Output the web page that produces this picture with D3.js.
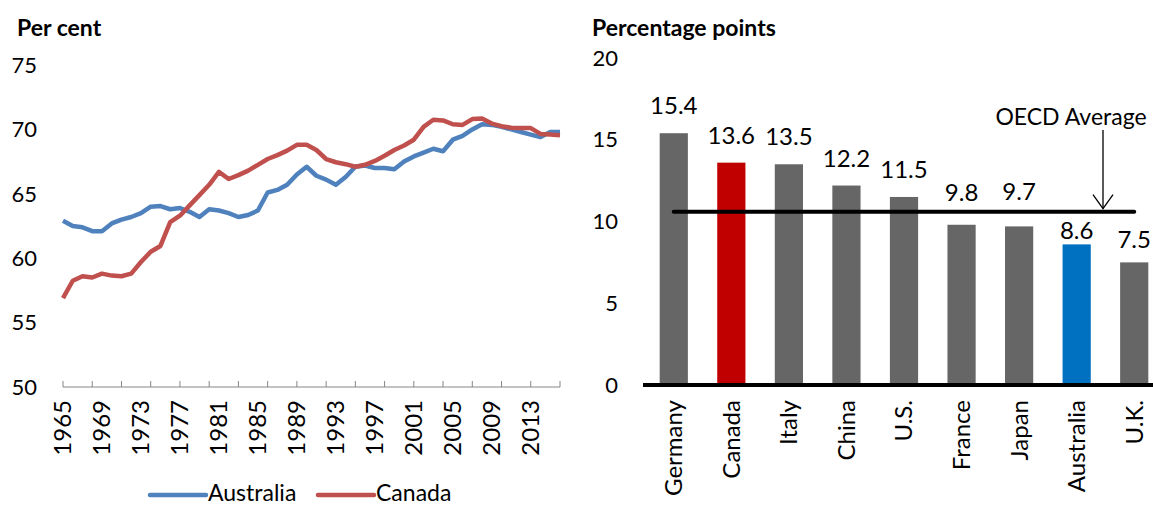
<!DOCTYPE html>
<html>
<head>
<meta charset="utf-8">
<script src="https://cdn.jsdelivr.net/npm/d3@7"></script>
<style>
body { margin:0; background:#fff; }
text { font-family: Lato, "Open Sans", sans-serif; fill:#000; }
</style>
</head>
<body>
<div id="svgContainer"></div>
<script>
// left panel data: share in per cent, 1965-2016
var years = d3.range(1965, 2017);
var australia = [62.9,62.5,62.4,62.1,62.1,62.7,63.0,63.2,63.5,64.0,64.05,63.8,63.9,63.6,63.2,63.8,63.7,63.5,63.2,63.35,
	63.7,65.1,65.3,65.7,66.5,67.1,66.4,66.1,65.7,66.3,67.1,67.2,67.0,67.0,66.9,67.5,67.9,68.2,68.5,68.3,
	69.2,69.5,70.0,70.4,70.35,70.2,70.0,69.8,69.6,69.4,69.8,69.8];
var canada = [56.9,58.25,58.6,58.5,58.8,58.65,58.6,58.8,59.7,60.5,60.95,62.8,63.3,64.1,64.9,65.7,66.7,66.15,66.45,66.8,
	67.25,67.7,68.0,68.35,68.8,68.8,68.4,67.7,67.45,67.3,67.1,67.25,67.55,67.95,68.4,68.75,69.2,70.2,70.75,70.7,
	70.4,70.35,70.8,70.85,70.45,70.25,70.13,70.1,70.1,69.65,69.6,69.55];
var leftTicks = [50,55,60,65,70,75];
var yearLabels = d3.range(1965, 2017, 4);
var yearTicks = d3.range(1965, 2017, 3);

// right panel data: percentage points
var countries = ["Germany","Canada","Italy","China","U.S.","France","Japan","Australia","U.K."];
var points = [15.4,13.6,13.5,12.2,11.5,9.8,9.7,8.6,7.5];
var oecdAvg = 10.6;
var rightTicks = [0,5,10,15,20];

var svgWidth = 1153, svgHeight = 507;
var svg = d3.select("#svgContainer").append("svg")
	.attr("width", svgWidth)
	.attr("height", svgHeight)
	.style("background-color", "#fff");

/* ---------- left: line chart ---------- */
var x1 = d3.scalePoint().domain(years).range([63, 560]);
var y1 = d3.scaleLinear().domain([50, 75]).range([387, 65]);

svg.append("text")
	.attr("x", 17).attr("y", 36)
	.attr("font-size", 23).attr("font-weight", "bold")
	.text("Per cent");

svg.append("g").selectAll("text")
	.data(leftTicks).enter().append("text")
	.attr("x", 37)
	.attr("y", function(d){ return y1(d); })
	.attr("dy", "0.35em")
	.attr("text-anchor", "end")
	.attr("font-size", 22)
	.text(function(d){ return d; });

// category axis, ticks pointing up
var xAxis = svg.append("g").attr("id", "xaxis");
xAxis.append("line")
	.attr("x1", x1(1965)).attr("x2", x1(2016))
	.attr("y1", y1(50)).attr("y2", y1(50))
	.attr("stroke", "#868686").attr("stroke-width", 1);
xAxis.selectAll(".tk")
	.data(yearTicks).enter().append("line")
	.attr("class", "tk")
	.attr("x1", function(d){ return x1(d); })
	.attr("x2", function(d){ return x1(d); })
	.attr("y1", y1(50)).attr("y2", y1(50) - 6)
	.attr("stroke", "#868686");
xAxis.selectAll("text")
	.data(yearLabels).enter().append("text")
	.attr("transform", function(d){
		return "translate(" + [x1(d), 400] + ") rotate(-90)";
	})
	.attr("dy", "0.35em")
	.attr("text-anchor", "end")
	.attr("font-size", 24)
	.text(function(d){ return d; });

var line = d3.line()
	.x(function(d, i){ return x1(years[i]); })
	.y(function(d){ return y1(d); });

var series = [
	{name: "Australia", values: australia, color: "#4F81BD"},
	{name: "Canada", values: canada, color: "#C0504D"}
];

svg.selectAll(".series")
	.data(series).enter().append("path")
	.attr("class", "series")
	.attr("d", function(d){ return line(d.values); })
	.attr("fill", "none")
	.attr("stroke", function(d){ return d.color; })
	.attr("stroke-width", 4.5)
	.attr("stroke-linejoin", "round");

// legend
var legX = [150, 318];
var legend = svg.selectAll(".legend")
	.data(series).enter().append("g")
	.attr("class", "legend")
	.attr("transform", function(d, i){ return "translate(" + legX[i] + ",493)"; });
legend.append("line")
	.attr("x1", 0).attr("x2", 56)
	.attr("y1", 2).attr("y2", 2)
	.attr("stroke", function(d){ return d.color; })
	.attr("stroke-width", 4.5)
	.attr("stroke-linecap", "round");
legend.append("text")
	.attr("x", 58).attr("y", 0)
	.attr("dy", "0.35em")
	.attr("font-size", 23)
	.text(function(d){ return d.name; });

/* ---------- right: bar chart ---------- */
var x2 = d3.scaleBand().domain(countries).range([645, 1163]);
var y2 = d3.scaleLinear().domain([0, 20]).range([385, 58]);
var barW = x2.bandwidth() * 0.49;
var barColor = {"Canada": "#C00000", "Australia": "#0070C0"};
// labels nudged by hand in the original so they clear the average line
var labelGap = {"France": 24, "Japan": 26, "Australia": 5, "U.K.": 14};

svg.append("text")
	.attr("x", 592).attr("y", 36)
	.attr("font-size", 23).attr("font-weight", "bold")
	.text("Percentage points");

svg.append("g").selectAll("text")
	.data(rightTicks).enter().append("text")
	.attr("x", 618)
	.attr("y", function(d){ return y2(d); })
	.attr("dy", "0.35em")
	.attr("text-anchor", "end")
	.attr("font-size", 22)
	.text(function(d){ return d; });

svg.selectAll(".bar")
	.data(points).enter().append("rect")
	.attr("class", "bar")
	.attr("x", function(d, i){ return x2(countries[i]) + (x2.bandwidth() - barW) / 2; })
	.attr("y", function(d){ return y2(d); })
	.attr("width", barW)
	.attr("height", function(d){ return y2(0) - y2(d); })
	.attr("fill", function(d, i){ return barColor[countries[i]] || "#666666"; });

// zero line
svg.append("line")
	.attr("x1", 643).attr("x2", svgWidth)
	.attr("y1", y2(0)).attr("y2", y2(0))
	.attr("stroke", "#000").attr("stroke-width", 4);

// OECD average line
svg.append("line")
	.attr("x1", x2(countries[0]) + x2.bandwidth() / 2)
	.attr("x2", x2(countries[countries.length - 1]) + x2.bandwidth() / 2)
	.attr("y1", y2(oecdAvg)).attr("y2", y2(oecdAvg))
	.attr("stroke", "#000").attr("stroke-width", 4)
	.attr("stroke-linecap", "round");

svg.selectAll(".val")
	.data(points).enter().append("text")
	.attr("class", "val")
	.attr("x", function(d, i){ return x2(countries[i]) + x2.bandwidth() / 2; })
	.attr("y", function(d, i){
		var gap = labelGap[countries[i]];
		return y2(d) - (gap === undefined ? 19 : gap);
	})
	.attr("text-anchor", "middle")
	.attr("font-size", 24)
	.text(function(d){ return d.toFixed(1); });

svg.append("text")
	.attr("x", 1071).attr("y", 125)
	.attr("text-anchor", "middle")
	.attr("font-size", 23)
	.text("OECD Average");

var ax = 1103, ay = y2(oecdAvg) - 3;
svg.append("line")
	.attr("x1", ax).attr("x2", ax)
	.attr("y1", 130).attr("y2", ay)
	.attr("stroke", "#000").attr("stroke-width", 1.3);
svg.append("path")
	.attr("d", "M" + (ax - 10) + "," + (ay - 14) + "L" + ax + "," + ay + "L" + (ax + 10) + "," + (ay - 14))
	.attr("fill", "none")
	.attr("stroke", "#000").attr("stroke-width", 1.3);

svg.append("g").selectAll("text")
	.data(countries).enter().append("text")
	.attr("transform", function(d){
		return "translate(" + [x2(d) + x2.bandwidth() / 2, 400] + ") rotate(-90)";
	})
	.attr("dy", "0.35em")
	.attr("text-anchor", "end")
	.attr("font-size", 24)
	.text(function(d){ return d; });
</script>
</body>
</html>
